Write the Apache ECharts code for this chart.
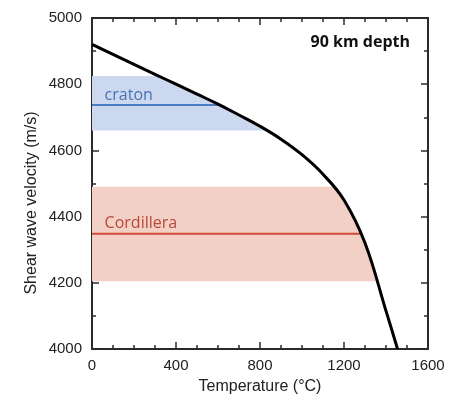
<!DOCTYPE html>
<html>
<head>
<meta charset="utf-8">
<script src="https://cdn.jsdelivr.net/npm/echarts@6/dist/echarts.min.js"></script>
<style>html,body{margin:0;padding:0;background:#fff}#c{width:461px;height:400px}</style>
</head>
<body>
<div id="c"></div>
<script>
// Curve: shear wave velocity vs temperature at 90 km depth
const temperature = [0, 100, 200, 300, 400, 500, 600, 700, 800, 900, 1000, 1100, 1200, 1300, 1400, 1455];
const velocity    = [4920, 4890, 4860, 4830, 4800, 4770, 4740, 4707, 4673, 4634, 4587, 4528, 4450, 4320, 4115, 4000];

// Observed ranges
const cratonRange = [4660, 4825];
const cratonMean = 4737;
const cordilleraRange = [4205, 4490];
const cordilleraMean = 4348;

const xTicks = [0, 400, 800, 1200, 1600];
const yTicks = [4000, 4200, 4400, 4600, 4800, 5000];

// temperature on curve for a given velocity (linear between read points)
function tempAt(v) {
  for (let i = 0; i < velocity.length - 1; i++) {
    const a = velocity[i], b = velocity[i + 1];
    if (v <= a && v >= b) {
      return temperature[i] + (a - v) / (a - b) * (temperature[i + 1] - temperature[i]);
    }
  }
  return v > velocity[0] ? temperature[0] : temperature[temperature.length - 1];
}

function bandSeries(name, range, mean, fill, stroke, textColor) {
  const lo = range[0], hi = range[1];
  return {
    type: 'custom',
    name: name,
    coordinateSystem: 'cartesian2d',
    data: [[0, lo, hi, mean]],
    encode: { x: 0, y: 1 },
    z: 1,
    silent: true,
    renderItem: function (params, api) {
      const pts = [[0, lo], [0, hi], [tempAt(hi), hi]];
      for (let i = 0; i < temperature.length; i++) {
        if (velocity[i] < hi && velocity[i] > lo) pts.push([temperature[i], velocity[i]]);
      }
      pts.push([tempAt(lo), lo]);
      const px = pts.map(p => api.coord(p));
      const m0 = api.coord([0, mean]);
      const m1 = api.coord([tempAt(mean), mean]);
      const t0 = api.coord([60, mean]);
      return {
        type: 'group',
        children: [
          { type: 'polygon', shape: { points: px }, style: { fill: fill } },
          { type: 'line', shape: { x1: m0[0], y1: m0[1], x2: m1[0], y2: m1[1] }, style: { stroke: stroke, lineWidth: 2 } },
          { type: 'text', x: t0[0], y: t0[1] - 2, style: { text: name, fill: textColor, font: '16px "Open Sans"', align: 'left', verticalAlign: 'bottom' } }
        ]
      };
    }
  };
}

const axisColor = '#2a2a2a';
const labelFont = { fontSize: 15, color: '#222', fontFamily: 'Liberation Sans' };

function xAxisDef(pos, showLabel) {
  return {
    type: 'value', position: pos, min: 0, max: 1600, interval: 400,
    axisLine: { show: true, onZero: false, lineStyle: { color: axisColor, width: 2 } },
    axisTick: { show: true, inside: true, length: 7, lineStyle: { color: axisColor, width: 1.5 } },
    minorTick: { show: true, splitNumber: 4, length: 4, lineStyle: { color: axisColor, width: 1.5 } },
    splitLine: { show: false }, minorSplitLine: { show: false },
    axisLabel: Object.assign({ show: showLabel, margin: 9, formatter: v => (xTicks.includes(v) ? String(v) : '') }, labelFont),
    name: showLabel ? 'Temperature (°C)' : '',
    nameLocation: 'middle', nameGap: 30,
    nameTextStyle: { fontSize: 16, color: '#222', fontFamily: 'Liberation Sans' }
  };
}
function yAxisDef(pos, showLabel) {
  return {
    type: 'value', position: pos, min: 4000, max: 5000, interval: 200,
    axisLine: { show: true, onZero: false, lineStyle: { color: axisColor, width: 2 } },
    axisTick: { show: true, inside: true, length: 7, lineStyle: { color: axisColor, width: 1.5 } },
    minorTick: { show: true, splitNumber: 2, length: 4, lineStyle: { color: axisColor, width: 1.5 } },
    splitLine: { show: false }, minorSplitLine: { show: false },
    axisLabel: Object.assign({ show: showLabel, margin: 10, formatter: v => (yTicks.includes(v) ? String(v) : '') }, labelFont)
  };
}

const chart = echarts.init(document.getElementById('c'), null, { renderer: 'canvas' });
chart.setOption({
  animation: false,
  backgroundColor: '#fff',
  grid: { left: 92, top: 18, right: 33, bottom: 46 },
  xAxis: [xAxisDef('bottom', true), xAxisDef('top', false)],
  yAxis: [yAxisDef('left', true), yAxisDef('right', false)],
  graphic: [
    { type: 'text', right: 51, top: 34, style: { text: '90 km depth', font: 'bold 16px "Open Sans"', fill: '#111' } },
    { type: 'text', x: 32, y: 203, rotation: Math.PI / 2,
      style: { text: 'Shear wave velocity (m/s)', font: '16px "Liberation Sans"', fill: '#222', align: 'center', verticalAlign: 'middle' } }
  ],
  series: [
    bandSeries('craton', cratonRange, cratonMean, '#cbd8ef', '#4a7cc4', '#4a72b4'),
    bandSeries('Cordillera', cordilleraRange, cordilleraMean, '#f3d0c5', '#d24a3a', '#b84838'),
    {
      type: 'line', name: 'curve', z: 5, symbol: 'none', smooth: 0.4,
      data: temperature.map((t, i) => [t, velocity[i]]),
      lineStyle: { color: '#000', width: 3 }
    }
  ]
});
</script>
</body>
</html>
